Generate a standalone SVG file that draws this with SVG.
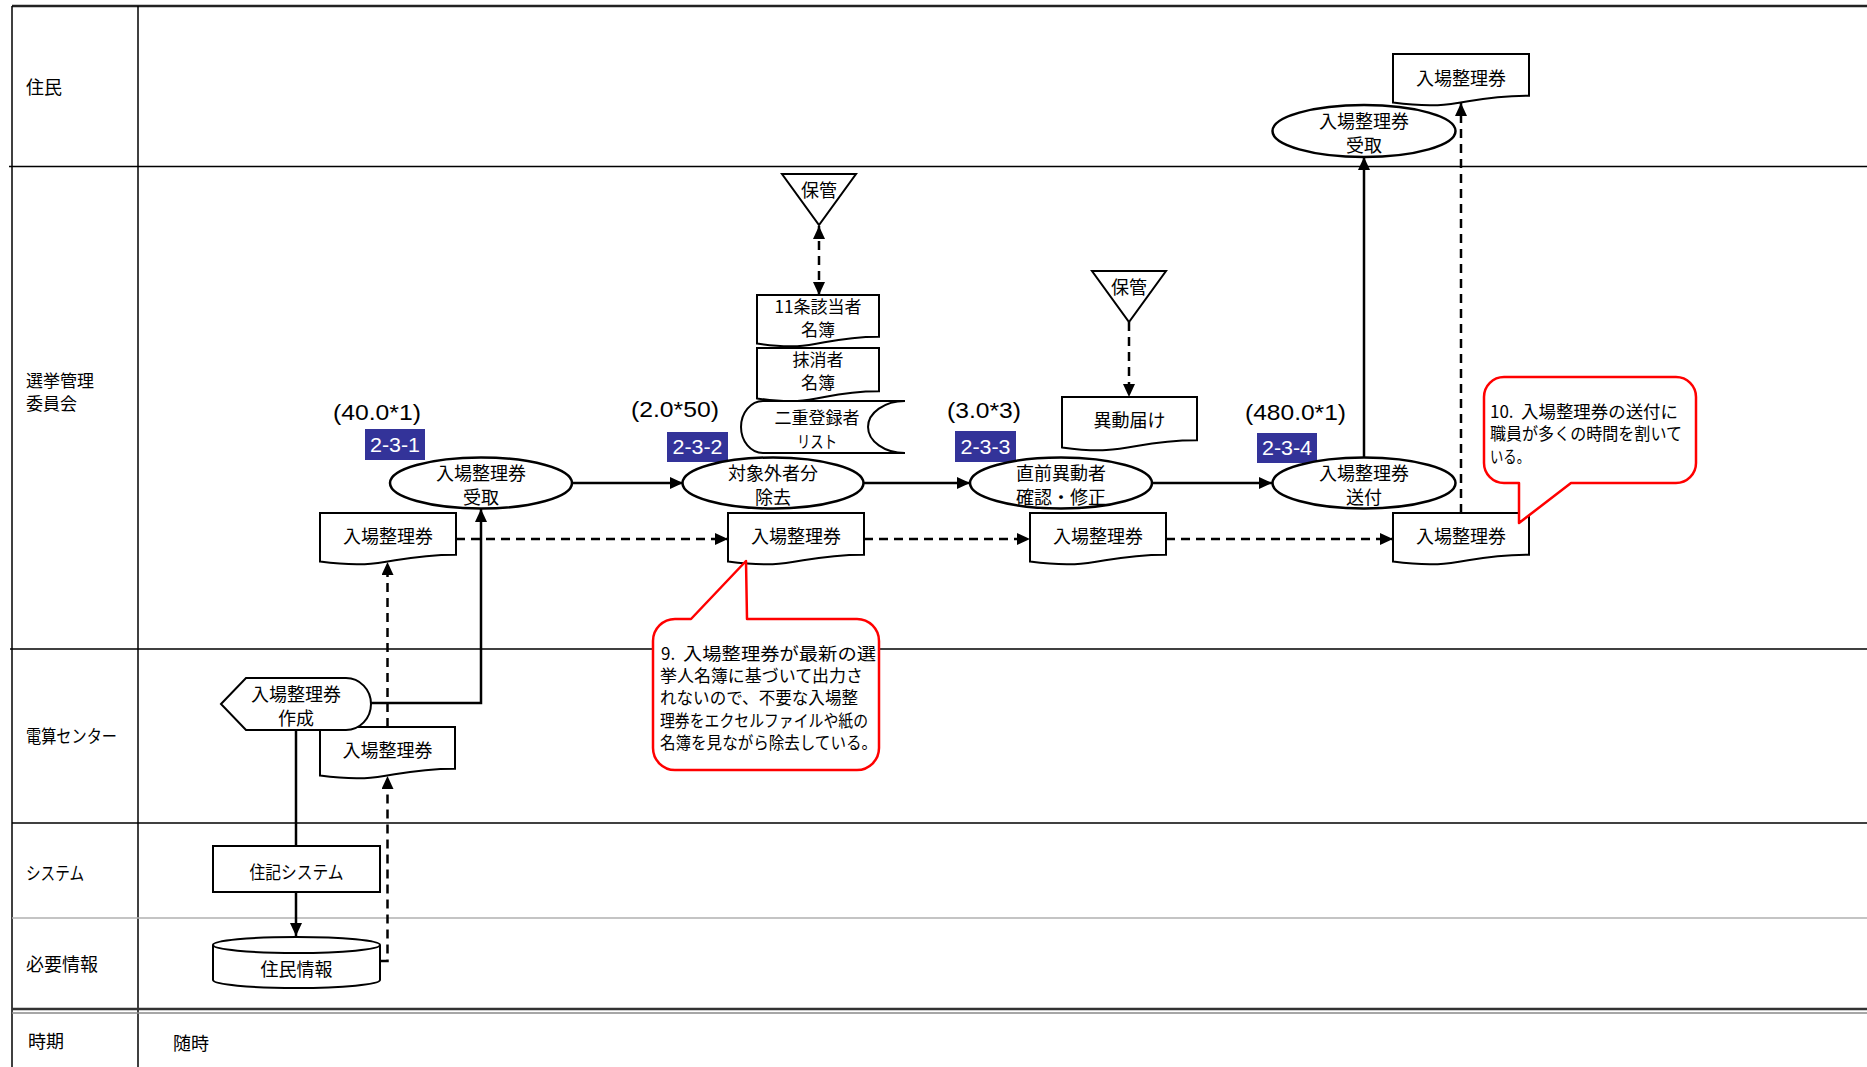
<svg xmlns="http://www.w3.org/2000/svg" width="1867" height="1067" viewBox="0 0 1867 1067">
  <style>
    .jp { font-family: "Noto Sans CJK JP", "Liberation Sans", sans-serif; font-size: 18px; fill: #000; }
    .jp2 { font-size: 17px; }
    .note { font-family: "Noto Sans CJK JP", "Liberation Sans", sans-serif; font-size: 17px; fill: #000; }
    .num { font-family: "Liberation Sans", "Noto Sans CJK JP", sans-serif; font-size: 22px; fill: #000; }
    .badge rect { fill: #333399; }
    .badge text { font-family: "Liberation Sans", sans-serif; font-size: 20px; fill: #fff; }
    .shape { fill: #fff; stroke: #000; stroke-width: 2; }
    .oval { fill: #fff; stroke: #000; stroke-width: 2.5; }
    .callout { fill: #fff; stroke: #ff0000; stroke-width: 2.5; stroke-linejoin: round; }
    .grid { stroke: #000; stroke-width: 1.5; fill: none; }
    .flow { stroke: #000; stroke-width: 2.5; fill: none; }
    .data { stroke: #000; stroke-width: 2.5; fill: none; stroke-dasharray: 9 6; }
  </style>
  <defs>
    <marker id="arrow" viewBox="0 0 13 12" markerUnits="userSpaceOnUse" markerWidth="13" markerHeight="12" refX="13" refY="6" orient="auto-start-reverse">
      <path d="M0,0 L13,6 L0,12 Z" fill="#000"/>
    </marker>
  </defs>
  <rect width="1867" height="1067" fill="#fff"/>

  <!-- swimlane frame -->
  <g id="frame">
    <line x1="12" y1="6" x2="1867" y2="6" stroke="#222" stroke-width="2.5"/>
    <line class="grid" x1="12" y1="6" x2="12" y2="1067" stroke-width="2"/>
    <line class="grid" x1="138" y1="6" x2="138" y2="1067"/>
    <line class="grid" x1="9" y1="166.5" x2="1867" y2="166.5"/>
    <line class="grid" x1="10" y1="649" x2="1867" y2="649"/>
    <line class="grid" x1="12" y1="823" x2="1867" y2="823"/>
    <line x1="12" y1="918" x2="1867" y2="918" stroke="#b0b0b0" stroke-width="1.5"/>
    <line x1="12" y1="1009" x2="1867" y2="1009" stroke="#333" stroke-width="2.5"/>
    <line x1="12" y1="1013" x2="1867" y2="1013" stroke="#888" stroke-width="1.3"/>
  </g>

  <g id="lane-labels" class="jp" dominant-baseline="central">
    <text x="26" y="86">住民</text>
    <text class="jp2" x="26" y="379">選挙管理</text>
    <text class="jp2" x="26" y="402">委員会</text>
    <text x="26" y="735" textLength="91" lengthAdjust="spacingAndGlyphs">電算センター</text>
    <text x="26" y="872" textLength="58" lengthAdjust="spacingAndGlyphs">システム</text>
    <text x="26" y="963">必要情報</text>
    <text x="28" y="1040">時期</text>
    <text x="173" y="1042">随時</text>
  </g>

  <!-- connectors -->
  <g id="connectors">
    <!-- solid process flow -->
    <polyline class="flow" points="371,703 481,703 481,509" marker-end="url(#arrow)"/>
    <line class="flow" x1="571" y1="483" x2="683" y2="483" marker-end="url(#arrow)"/>
    <line class="flow" x1="864" y1="483" x2="970" y2="483" marker-end="url(#arrow)"/>
    <line class="flow" x1="1152" y1="483" x2="1272" y2="483" marker-end="url(#arrow)"/>
    <line class="flow" x1="1364" y1="458" x2="1364" y2="157" marker-end="url(#arrow)"/>
    <line class="flow" x1="296" y1="729" x2="296" y2="846"/>
    <line class="flow" x1="296" y1="892" x2="296" y2="936" marker-end="url(#arrow)"/>
    <!-- dashed document flow -->
    <polyline class="data" points="380,961 387.5,961 387.5,776" marker-end="url(#arrow)"/>
    <line class="data" x1="387.5" y1="727" x2="387.5" y2="562" marker-end="url(#arrow)"/>
    <line class="data" x1="456" y1="539" x2="728" y2="539" marker-end="url(#arrow)"/>
    <line class="data" x1="864" y1="539" x2="1030" y2="539" marker-end="url(#arrow)"/>
    <line class="data" x1="1166" y1="539" x2="1393" y2="539" marker-end="url(#arrow)"/>
    <line class="data" x1="1461" y1="513" x2="1461" y2="103" marker-end="url(#arrow)"/>
    <line class="data" x1="819" y1="226" x2="819" y2="295" marker-start="url(#arrow)" marker-end="url(#arrow)"/>
    <line class="data" x1="1129" y1="322" x2="1129" y2="397" marker-end="url(#arrow)"/>
  </g>

  <!-- time estimates -->
  <g id="estimates" class="num" dominant-baseline="central">
    <text x="333" y="412" textLength="88" lengthAdjust="spacingAndGlyphs">(40.0*1)</text>
    <text x="631" y="409" textLength="88" lengthAdjust="spacingAndGlyphs">(2.0*50)</text>
    <text x="947" y="410" textLength="74" lengthAdjust="spacingAndGlyphs">(3.0*3)</text>
    <text x="1245" y="412" textLength="101" lengthAdjust="spacingAndGlyphs">(480.0*1)</text>
  </g>

  <!-- step numbers -->
  <g id="badge-231" class="badge"><rect x="365" y="429" width="60" height="31"/><text x="395" y="445" text-anchor="middle" dominant-baseline="central" textLength="50" lengthAdjust="spacingAndGlyphs">2-3-1</text></g>
  <g id="badge-232" class="badge"><rect x="667" y="432" width="61" height="30"/><text x="697.5" y="447" text-anchor="middle" dominant-baseline="central" textLength="50" lengthAdjust="spacingAndGlyphs">2-3-2</text></g>
  <g id="badge-233" class="badge"><rect x="955" y="431" width="61" height="31"/><text x="985.5" y="446.5" text-anchor="middle" dominant-baseline="central" textLength="50" lengthAdjust="spacingAndGlyphs">2-3-3</text></g>
  <g id="badge-234" class="badge"><rect x="1257" y="433" width="60" height="30"/><text x="1287" y="448" text-anchor="middle" dominant-baseline="central" textLength="50" lengthAdjust="spacingAndGlyphs">2-3-4</text></g>

  <!-- processes -->
  <g id="proc-receive" class="jp" text-anchor="middle" dominant-baseline="central">
    <ellipse class="oval" cx="481" cy="483" rx="91" ry="25.5"/>
    <text x="481" y="472">入場整理券</text>
    <text x="481" y="496">受取</text>
  </g>
  <g id="proc-remove" class="jp" text-anchor="middle" dominant-baseline="central">
    <ellipse class="oval" cx="773" cy="483" rx="90.5" ry="25.5"/>
    <text x="773" y="472">対象外者分</text>
    <text x="773" y="496">除去</text>
  </g>
  <g id="proc-check" class="jp" text-anchor="middle" dominant-baseline="central">
    <ellipse class="oval" cx="1061" cy="483" rx="91" ry="25.5"/>
    <text x="1061" y="472">直前異動者</text>
    <text x="1061" y="496">確認・修正</text>
  </g>
  <g id="proc-send" class="jp" text-anchor="middle" dominant-baseline="central">
    <ellipse class="oval" cx="1364" cy="483" rx="91.5" ry="25.5"/>
    <text x="1364" y="472">入場整理券</text>
    <text x="1364" y="496">送付</text>
  </g>
  <g id="proc-resident-receive" class="jp" text-anchor="middle" dominant-baseline="central">
    <ellipse class="oval" cx="1364" cy="131" rx="91.5" ry="26"/>
    <text x="1364" y="120">入場整理券</text>
    <text x="1364" y="144">受取</text>
  </g>

  <!-- documents -->
  <g id="doc-ticket-1" class="jp" text-anchor="middle" dominant-baseline="central">
    <path class="shape" d="M320 513 H456 V554.7 C388 554.7 388 570.6 320 561.6 Z"/>
    <text x="388" y="535">入場整理券</text>
  </g>
  <g id="doc-ticket-2" class="jp" text-anchor="middle" dominant-baseline="central">
    <path class="shape" d="M728 513 H864 V554.7 C796 554.7 796 570.6 728 561.6 Z"/>
    <text x="796" y="535">入場整理券</text>
  </g>
  <g id="doc-ticket-3" class="jp" text-anchor="middle" dominant-baseline="central">
    <path class="shape" d="M1030 513 H1166 V554.7 C1098 554.7 1098 570.6 1030 561.6 Z"/>
    <text x="1098" y="535">入場整理券</text>
  </g>
  <g id="doc-ticket-4" class="jp" text-anchor="middle" dominant-baseline="central">
    <path class="shape" d="M1393 513 H1529 V554.7 C1461 554.7 1461 570.6 1393 561.6 Z"/>
    <text x="1461" y="535">入場整理券</text>
  </g>
  <g id="doc-ticket-5" class="jp" text-anchor="middle" dominant-baseline="central">
    <path class="shape" d="M1393 54 H1529 V95.7 C1461 95.7 1461 111.6 1393 102.6 Z"/>
    <text x="1461" y="77">入場整理券</text>
  </g>
  <g id="doc-ticket-6" class="jp" text-anchor="middle" dominant-baseline="central">
    <path class="shape" d="M320 727 H455 V768.7 C387.5 768.7 387.5 784.6 320 775.6 Z"/>
    <text x="387.5" y="749">入場整理券</text>
  </g>
  <g id="doc-article11" class="jp jp2" text-anchor="middle" dominant-baseline="central">
    <path class="shape" d="M757 295 H879 V336.7 C818 336.7 818 352.6 757 343.6 Z"/>
    <text x="818" y="305">11条該当者</text>
    <text x="818" y="328">名簿</text>
  </g>
  <g id="doc-deleted" class="jp jp2" text-anchor="middle" dominant-baseline="central">
    <path class="shape" d="M757 348 H879 V391.3 C818 391.3 818 407.8 757 398.4 Z"/>
    <text x="818" y="358">抹消者</text>
    <text x="818" y="381">名簿</text>
  </g>
  <g id="doc-moving" class="jp" text-anchor="middle" dominant-baseline="central">
    <path class="shape" d="M1062 397 H1197 V440.3 C1129.5 440.3 1129.5 456.8 1062 447.4 Z"/>
    <text x="1129.5" y="419">異動届け</text>
  </g>

  <!-- stored data -->
  <g id="data-duplicate" class="jp jp2" text-anchor="middle" dominant-baseline="central">
    <path class="shape" d="M763 401 H905 A37 26 0 0 0 905 453 H763 A22 26 0 0 1 763 401 Z"/>
    <text x="817" y="416">二重登録者</text>
    <text x="817" y="440" textLength="40" lengthAdjust="spacingAndGlyphs">リスト</text>
  </g>

  <!-- storage -->
  <g id="store-1" class="jp" text-anchor="middle" dominant-baseline="central">
    <path class="shape" d="M782 174 H856 L819 225 Z"/>
    <text x="819" y="189">保管</text>
  </g>
  <g id="store-2" class="jp" text-anchor="middle" dominant-baseline="central">
    <path class="shape" d="M1092 271 H1166 L1129 322 Z"/>
    <text x="1129" y="286">保管</text>
  </g>

  <!-- computer centre output -->
  <g id="display-create" class="jp" text-anchor="middle" dominant-baseline="central">
    <path class="shape" d="M221 704 L246 678 H346 A25 26 0 0 1 346 730 H246 Z"/>
    <text x="296" y="693">入場整理券</text>
    <text x="296" y="717">作成</text>
  </g>

  <!-- system -->
  <g id="sys-juki" class="jp" text-anchor="middle" dominant-baseline="central">
    <rect class="shape" x="213" y="846" width="167" height="46"/>
    <text x="296.5" y="871" textLength="94" lengthAdjust="spacingAndGlyphs">住記システム</text>
  </g>

  <!-- database -->
  <g id="db-resident" class="jp" text-anchor="middle" dominant-baseline="central">
    <path class="shape" d="M213 945 A83.5 8 0 0 1 380 945 V980 A83.5 8 0 0 1 213 980 Z"/>
    <path class="shape" d="M213 945 A83.5 8 0 0 0 380 945"/>
    <text x="296.5" y="968">住民情報</text>
  </g>

  <!-- issue notes -->
  <g id="note-9" class="note" dominant-baseline="central">
    <path class="callout" d="M675 619 H691 L746 561 L747 619 H857 A22 22 0 0 1 879 641 V748 A22 22 0 0 1 857 770 H675 A22 22 0 0 1 653 748 V641 A22 22 0 0 1 675 619 Z"/>
    <text y="652"><tspan x="661">9.</tspan><tspan x="683" textLength="193" lengthAdjust="spacingAndGlyphs">入場整理券が最新の選</tspan></text>
    <text x="660" y="674" textLength="203" lengthAdjust="spacingAndGlyphs">挙人名簿に基づいて出力さ</text>
    <text x="660" y="696" textLength="198" lengthAdjust="spacingAndGlyphs">れないので、不要な入場整</text>
    <text x="660" y="719" textLength="208" lengthAdjust="spacingAndGlyphs">理券をエクセルファイルや紙の</text>
    <text x="660" y="741" textLength="217" lengthAdjust="spacingAndGlyphs">名簿を見ながら除去している。</text>
  </g>
  <g id="note-10" class="note" dominant-baseline="central">
    <path class="callout" d="M1504 377 H1676 A20 20 0 0 1 1696 397 V463 A20 20 0 0 1 1676 483 H1571 L1519 523 V483 H1504 A20 20 0 0 1 1484 463 V397 A20 20 0 0 1 1504 377 Z"/>
    <text y="410"><tspan x="1490">10.</tspan><tspan x="1521" textLength="157" lengthAdjust="spacingAndGlyphs">入場整理券の送付に</tspan></text>
    <text x="1490" y="432" textLength="192" lengthAdjust="spacingAndGlyphs">職員が多くの時間を割いて</text>
    <text x="1490" y="455" textLength="40" lengthAdjust="spacingAndGlyphs">いる。</text>
  </g>
</svg>
